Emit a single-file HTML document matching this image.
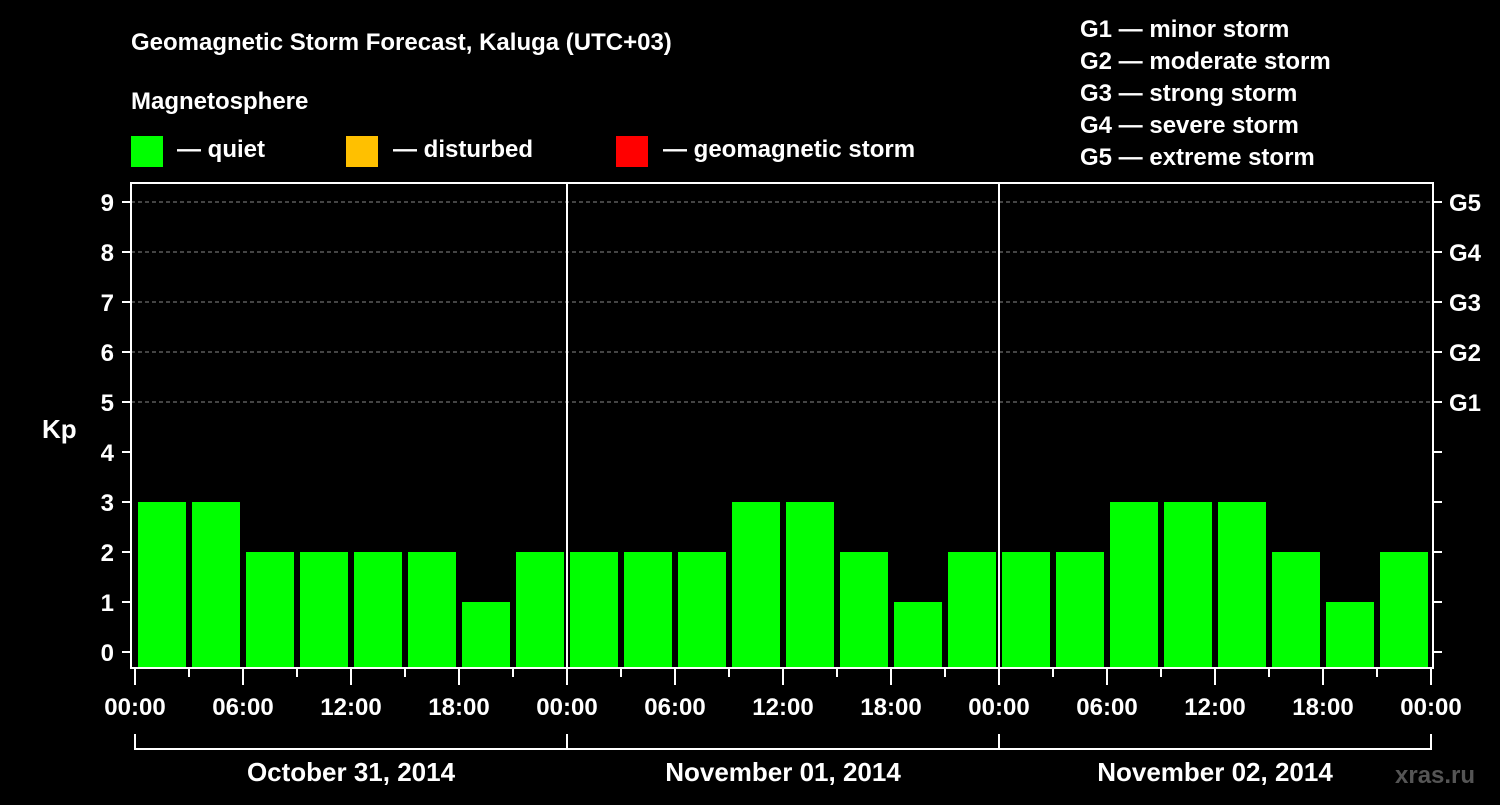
<!DOCTYPE html>
<html><head><meta charset="utf-8"><style>
body{margin:0;background:#000;width:1500px;height:800px;overflow:hidden}
svg{font-family:"Liberation Sans",Arial,sans-serif;font-weight:bold;fill:#fff}
</style></head><body>
<svg id="c" width="1500" height="800">
<text x="131" y="50" font-size="24">Geomagnetic Storm Forecast, Kaluga (UTC+03)</text>
<text x="131" y="109" font-size="24">Magnetosphere</text>
<g><rect x="131" y="136" width="32" height="31" fill="#00ff00"/><text x="177" y="157" font-size="24">— quiet</text></g>
<g><rect x="346" y="136" width="32" height="31" fill="#ffc000"/><text x="393" y="157" font-size="24">— disturbed</text></g>
<g><rect x="616" y="136" width="32" height="31" fill="#ff0000"/><text x="663" y="157" font-size="24">— geomagnetic storm</text></g>
<g font-size="24">
<text x="1080" y="37">G1 — minor storm</text><text x="1080" y="69">G2 — moderate storm</text><text x="1080" y="101">G3 — strong storm</text><text x="1080" y="133">G4 — severe storm</text><text x="1080" y="165">G5 — extreme storm</text></g>
<text x="42" y="438" font-size="26">Kp</text>
<text x="1395" y="783" font-size="24" fill="#555" style="fill:#555">xras.ru</text>
<g id="grid"></g><g id="bars"></g><g id="axes"></g>
</svg>
<script>
const days=["October 31, 2014","November 01, 2014","November 02, 2014"];
const kpDay1=[3,3,2,2,2,2,1,2];
const kpDay2=[2,2,2,3,3,2,1,2];
const kpDay3=[2,2,3,3,3,2,1,2];
const yTicks=[0,1,2,3,4,5,6,7,8,9];
const gLabels=["G1","G2","G3","G4","G5"];
const xLabels=["00:00","06:00","12:00","18:00"];
const NS="http://www.w3.org/2000/svg";
const X0=135,DAY=432,SLOT=54;
const y=v=>652-50*v, x=h=>X0+h*(DAY/24);
function mk(p,t,a){const e=document.createElementNS(NS,t);for(const k in a)e.setAttribute(k,a[k]);document.getElementById(p).appendChild(e);return e;}
// grid
for(let v=5;v<=9;v++){const l=mk('grid','line',{x1:131,x2:1433,y1:y(v),y2:y(v),stroke:'#888','stroke-dasharray':'4,3'});

}
// bars
const all=[kpDay1,kpDay2,kpDay3].flat();
all.forEach((v,i)=>{const col=v>=5?'#ff0000':(v>=4?'#ffc000':'#00ff00');
const r=mk('bars','rect',{x:x(i*3)+3,y:y(v),width:SLOT-6,height:668-y(v),fill:col});

});
// frame
mk('axes','rect',{x:131,y:183,width:1302,height:485,fill:'none',stroke:'#fff','stroke-width':2});
for(let d=1;d<3;d++)mk('axes','line',{x1:x(24*d),x2:x(24*d),y1:183,y2:668,stroke:'#fff','stroke-width':2});
yTicks.forEach(v=>{mk('axes','line',{x1:122,x2:131,y1:y(v),y2:y(v),stroke:'#fff','stroke-width':2});
mk('axes','line',{x1:1433,x2:1442,y1:y(v),y2:y(v),stroke:'#fff','stroke-width':2});
const t=mk('axes','text',{x:114,y:y(v)+9,'font-size':24,'text-anchor':'end'});t.textContent=v;

});
gLabels.forEach((g,i)=>{const t=mk('axes','text',{x:1449,y:y(5+i)+9,'font-size':24});t.textContent=g;

});
for(let h=0;h<=72;h+=3){const maj=h%6===0;mk('axes','line',{x1:x(h),x2:x(h),y1:668,y2:maj?685:677,stroke:'#fff','stroke-width':2});
if(maj){const t=mk('axes','text',{x:x(h),y:715,'font-size':24,'text-anchor':'middle'});t.textContent=xLabels[(h/6)%4];

}}
mk('axes','line',{x1:x(0),x2:x(72),y1:749,y2:749,stroke:'#fff','stroke-width':2});
for(let d=0;d<=3;d++)mk('axes','line',{x1:x(24*d),x2:x(24*d),y1:734,y2:750,stroke:'#fff','stroke-width':2});
days.forEach((d,i)=>{const t=mk('axes','text',{x:x(24*i+12),y:781,'font-size':26,'text-anchor':'middle'});t.textContent=d;

});
</script></body></html>
